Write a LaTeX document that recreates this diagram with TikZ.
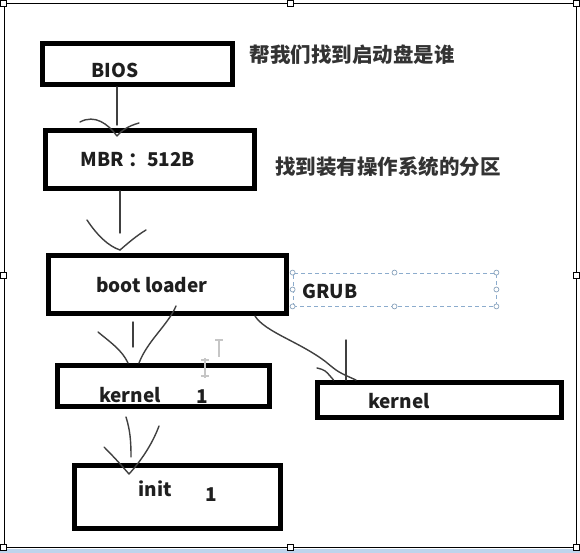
\documentclass[tikz,border=0pt]{standalone}
\usepackage{fontspec}
\setmainfont{Noto Sans CJK SC}
\usetikzlibrary{positioning}
\definecolor{selblue}{RGB}{140,172,205}
\definecolor{barblue}{RGB}{190,212,236}

\begin{document}
\begin{tikzpicture}[
    x=1pt, y=-1pt,
    box/.style={rectangle, draw, line width=5pt, inner sep=0pt},
    txt/.style={font=\fontsize{19}{22}\selectfont\bfseries, text=black!88, inner sep=0pt},
    note/.style={font=\fontsize{20.5}{24}\selectfont\bfseries, text=black!80, inner sep=0pt},
    pen/.style={line width=1.4pt, black!75, line cap=round},
    selbox/.style={rectangle, draw=selblue, dashed, dash pattern=on 4pt off 3pt, line width=0.8pt, inner sep=0pt},
    grip/.style={circle, draw=selblue!80!gray, fill=white, minimum size=5pt, inner sep=0pt, line width=0.7pt},
    handle/.style={rectangle, draw, fill=white, minimum size=6pt, inner sep=0pt, line width=0.7pt},
    caret/.style={line width=1.6pt, gray!45}
]
    % page
    \fill[white] (0,0) rectangle (580,553);
    \fill[barblue] (0,549) rectangle (580,553);
    \node[rectangle, draw, line width=1pt, minimum width=572pt, minimum height=543pt, inner sep=0pt] (frame) at (290,275.5) {};
    \foreach \a [count=\i] in {north west, north, north east, east, south east, south, south west, west}
        \node[handle] (hdl\i) at (frame.\a) {};

    % Boxes
    \node[box, minimum width=190pt, minimum height=41pt] (bios) at (137.5,64) {};
    \node[box, minimum width=209pt, minimum height=58pt] (mbr) at (150,159.5) {};
    \node[box, minimum width=238pt, minimum height=58pt] (boot) at (167.5,284.5) {};
    \node[box, minimum width=212pt, minimum height=41pt] (kern1) at (163.5,386) {};
    \node[box, minimum width=244pt, minimum height=35pt] (kern2) at (439.5,400) {};
    \node[box, minimum width=206pt, minimum height=63pt] (init) at (177.5,497) {};

    % GRUB selection
    \node[selbox, minimum width=203pt, minimum height=33pt] (grub) at (394.5,289.5) {};
    \foreach \a [count=\i] in {north west, north, north east, east, south east, south, south west, west}
        \node[grip] (grip\i) at (grub.\a) {};

    % Texts
    \node[txt] (t-bios) at (115,70) {BIOS};
    \node[note] (n-bios) at (352,55) {帮我们找到启动盘是谁};
    \node[txt] (t-mbr) at (138,160) {MBR\hspace{4pt}：512B};
    \node[note] (n-mbr) at (388,167) {找到装有操作系统的分区};
    \node[txt] (t-boot) at (152,285) {boot loader};
    \node[txt] (t-grub) at (330,291) {GRUB};
    \node[txt] (t-kern1) at (130,395) {kernel};
    \node[txt] (t-one1) at (202,397) {1};
    \node[txt] (t-kern2) at (399,401) {kernel};
    \node[txt] (t-init) at (155,489) {init};
    \node[txt] (t-one2) at (211,495) {1};

    % Hand drawn arrows
    \coordinate (tipA) at (117,136);
    \draw[pen] (bios.south -| tipA) -- ++(0,38);
    \draw[pen] (80,122) .. controls (95,114) and (108,124) .. (tipA);
    \draw[pen] (139,123) .. controls (128,126) and (121,131) .. (tipA);

    \coordinate (tipB) at (120,250);
    \draw[pen] (mbr.south -| tipB) -- ++(0,42);
    \draw[pen] (87,220) .. controls (97,235) and (108,246) .. (tipB);
    \draw[pen] (146,230) .. controls (136,236) and (127,244) .. (tipB);

    \coordinate (tipC) at (133,363);
    \draw[pen] (boot.south -| tipC) ++(0,6) -- ++(0,25);
    \draw[pen] (98,332) .. controls (110,342) and (122,350) .. ([xshift=-5pt]tipC);
    \draw[pen] (176,306) .. controls (168,325) and (148,340) .. ([xshift=6pt]tipC);

    \draw[pen] ([xshift=87.5pt]boot.south) .. controls (265,332) and (300,342) .. (326,362)
        .. controls (338,372) .. ([xshift=-83.5pt]kern2.north);
    \draw[pen] ([xshift=-93.5pt]kern2.north) -- ++(0,-40);
    \draw[pen] (317,368) .. controls (325,370) .. ([xshift=-106pt]kern2.north);

    \coordinate (tipD) at (129,474);
    \draw[pen] ([xshift=-37.5pt,yshift=-8pt]kern1.south) .. controls (130,430) and (131,440) .. (131,457);
    \draw[pen] (104,447) .. controls (115,458) and (122,466) .. (tipD);
    \draw[pen] (159,426) .. controls (152,445) and (140,462) .. (tipD);

    % text cursor
    \draw[caret] (219,340) -- (219,357) (215,340) -- (223,340);
    \draw[caret] (205,358) -- (205,378) (201,360) -- (209,360) (201,376) -- (209,376);
\end{tikzpicture}
\end{document}
